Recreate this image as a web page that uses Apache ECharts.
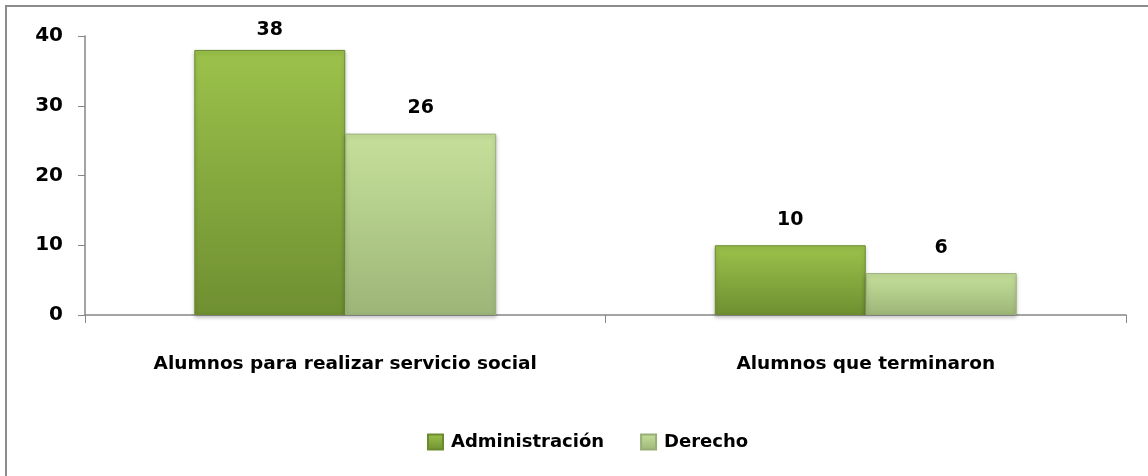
<!DOCTYPE html>
<html><head><meta charset="utf-8">
<script src="https://cdn.jsdelivr.net/npm/echarts@6/dist/echarts.min.js"></script>
<style>html,body{margin:0;padding:0;background:#fff}#c{width:1148px;height:476px}</style>
</head><body><div id="c"></div>
<script>
const categories = ['Alumnos para realizar servicio social', 'Alumnos que terminaron'];
const seriesNames = ['Administración', 'Derecho'];
const adminValues = [38, 10];
const derechoValues = [26, 6];
const yTicks = [0, 10, 20, 30, 40];

const FONT = 'DejaVu Sans';
const chart = echarts.init(document.getElementById('c'), null, {renderer: 'canvas'});
function grad(top, bottom) {
  return new echarts.graphic.LinearGradient(0, 0, 0, 1, [{offset: 0, color: top}, {offset: 1, color: bottom}]);
}
const adminColor = grad('#9cc24b', '#6f8f31');
const derechoColor = grad('#c6e09b', '#9db678');
const labelStyle = {show: true, position: 'top', distance: 16, fontFamily: FONT, fontWeight: 'bold', fontSize: 19, color: '#000'};
const yMax = yTicks[yTicks.length - 1];
// Excel squeezes the label that would overflow the plot top closer to its bar
function toData(values) {
  return values.map(v => (v / yMax > 0.9 ? {value: v, label: {distance: 10}} : v));
}
chart.setOption({
  animation: false,
  graphic: [{type: 'rect', x: 0, y: 0, shape: {x: 6, y: 6, width: 1200, height: 520}, style: {fill: 'none', stroke: '#8c8c8c', lineWidth: 2}, silent: true}],
  grid: {left: 85, right: 22, top: 36, bottom: 161, containLabel: false},
  legend: {
    data: seriesNames, top: 428, left: 422, itemGap: 36, itemWidth: 15, itemHeight: 15,
    icon: 'rect',
    textStyle: {fontFamily: FONT, fontWeight: 'bold', fontSize: 18, color: '#000', padding: [0, 0, 0, 3]}
  },
  xAxis: {
    type: 'category', data: categories,
    axisLine: {lineStyle: {color: '#868686', width: 1.5}},
    axisTick: {show: true, length: 8, lineStyle: {color: '#868686'}},
    axisLabel: {fontFamily: FONT, fontWeight: 'bold', fontSize: 18.5, color: '#000', margin: 40}
  },
  yAxis: {
    type: 'value', min: yTicks[0], max: yMax, interval: 10,
    splitLine: {show: false},
    axisLine: {show: true, lineStyle: {color: '#868686', width: 1.5}},
    axisTick: {show: true, length: 7, lineStyle: {color: '#868686'}},
    axisLabel: {fontFamily: FONT, fontWeight: 'bold', fontSize: 20, color: '#000', margin: 22}
  },
  series: [
    {name: seriesNames[0], type: 'bar', data: toData(adminValues), barGap: '0%', barCategoryGap: '42%',
     itemStyle: {color: adminColor, borderColor: '#6a8a2e', borderWidth: 1, shadowColor: 'rgba(0,0,0,0.25)', shadowBlur: 4, shadowOffsetY: 2},
     label: labelStyle},
    {name: seriesNames[1], type: 'bar', data: toData(derechoValues),
     itemStyle: {color: derechoColor, borderColor: '#98ae77', borderWidth: 1, shadowColor: 'rgba(0,0,0,0.25)', shadowBlur: 4, shadowOffsetY: 2},
     label: labelStyle}
  ]
});
</script></body></html>
